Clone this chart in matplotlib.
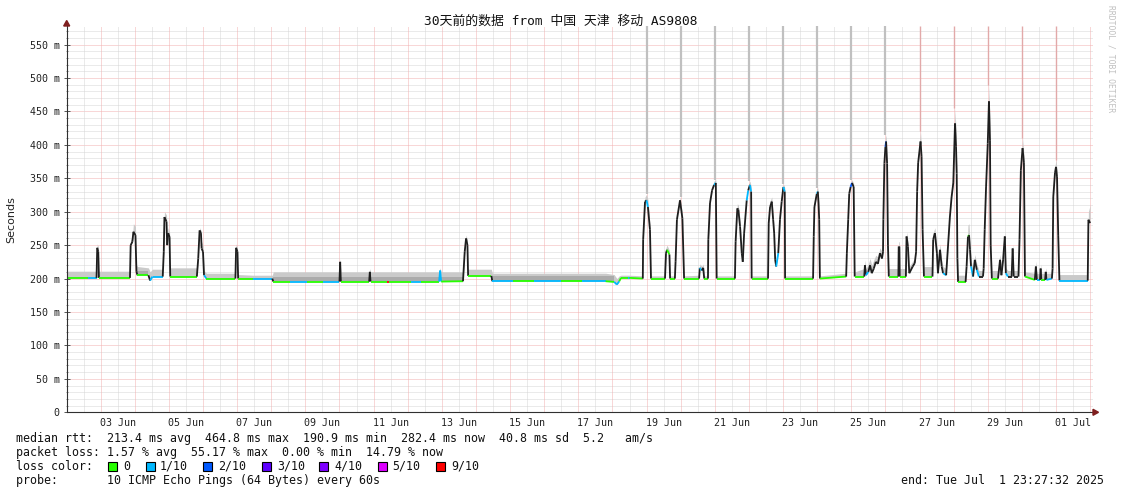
import matplotlib
matplotlib.use("Agg")
import matplotlib.pyplot as plt
from matplotlib.collections import LineCollection
from matplotlib.patches import Rectangle, Polygon
import numpy as np

# time in days, 01 Jun 00:00 = 0  (03 Jun = 2, 01 Jul = 30)
t_day = [
    0.51, 1.13, 1.38, 1.40, 1.43, 1.45, 2.36,
    2.38, 2.43, 2.46, 2.52, 2.55, 2.58, 2.90, 2.95, 3.02, 3.32,
    3.35, 3.37, 3.43, 3.45, 3.48, 3.52, 3.54, 4.32,
    4.36, 4.40, 4.44, 4.46, 4.50, 4.53, 4.60, 5.45,
    5.47, 5.51, 5.53, 5.97, 6.53, 6.56, 7.05, 7.55,
    8.02, 8.50, 8.52, 8.54, 9.37, 9.39, 9.41, 9.90, 9.95,
    10.60, 10.90, 11.42, 11.45, 11.48, 12.12, 12.17, 12.21, 12.25, 12.27,
    12.95, 12.98, 13.60, 14.20, 15.00, 15.60, 16.30, 16.55, 16.63, 16.70,
    16.75, 16.95, 17.00, 17.39,
    17.40, 17.455, 17.50, 17.54, 17.60, 17.63, 18.04,
    18.07, 18.10, 18.17, 18.19, 18.33,
    18.35, 18.39, 18.48, 18.55, 18.60, 19.04,
    19.06, 19.12, 19.16, 19.19, 19.30,
    19.31, 19.36, 19.42, 19.48, 19.53, 19.555, 20.09,
    20.11, 20.16, 20.19, 20.24, 20.29, 20.32, 20.36, 20.435, 20.48, 20.53, 20.565, 20.58, 21.06,
    21.08, 21.12, 21.17, 21.21, 21.24, 21.27, 21.30, 21.36, 21.41, 21.46, 21.51, 21.55, 21.56, 22.38,
    22.40, 22.42, 22.49, 22.52, 22.54, 22.56, 22.58, 23.35,
    23.37, 23.41, 23.44, 23.48, 23.52, 23.57, 23.60,
    23.88, 23.90, 23.93, 24.00, 24.05, 24.10, 24.16, 24.22, 24.28, 24.34, 24.40,
    24.43, 24.44, 24.47, 24.50, 24.52, 24.55, 24.575, 24.60,
    24.88, 24.89, 24.91, 24.92, 25.10, 25.12, 25.16, 25.20, 25.30, 25.36, 25.40,
    25.43, 25.46, 25.53, 25.56, 25.59, 25.63,
    25.88, 25.90, 25.95, 26.01, 26.04, 26.10, 26.15, 26.19, 26.28,
    26.39, 26.44, 26.49, 26.54, 26.57, 26.59, 26.61, 26.63,
    26.85, 26.88, 26.92, 26.95, 26.98, 27.01, 27.07, 27.12, 27.18, 27.24, 27.36, 27.38,
    27.41, 27.45, 27.50, 27.535, 27.565, 27.585, 27.62,
    27.80, 27.86, 27.90, 27.95, 28.00, 28.03, 28.09, 28.20, 28.23, 28.26, 28.40,
    28.43, 28.47, 28.52, 28.56, 28.59,
    28.88, 28.91, 28.94, 29.03, 29.05, 29.07, 29.18, 29.20, 29.22, 29.38,
    29.40, 29.42, 29.47, 29.50, 29.53, 29.565, 29.60, 30.43, 30.45, 30.50,
]
# median rtt (ms)
rtt_ms = [
    201, 201, 201, 246, 240, 201, 201,
    250, 255, 270, 265, 210, 205, 205, 197, 203, 203,
    240, 292, 285, 250, 268, 262, 203, 203,
    230, 272, 268, 245, 240, 205, 200, 200,
    246, 240, 200, 200, 200, 195.5, 195.5, 195.5,
    195.5, 195.5, 225, 195.5, 195.5, 210, 195.5, 195.5, 195.5,
    195.5, 195.5, 195.5, 212, 195.5, 196, 240, 260, 250, 204,
    204, 196, 196, 196, 196, 196, 196, 195, 191, 196,
    201, 201, 201, 200,
    258, 315, 317, 307, 273, 200, 200,
    238, 243, 236, 200, 200,
    225, 288, 317, 290, 200, 200,
    216, 212, 216, 200, 200,
    258, 313, 332, 340, 343, 200, 200,
    255, 305, 303, 278, 238, 225, 268, 317, 332, 340, 330, 200, 200,
    283, 307, 315, 288, 268, 228, 218, 238, 288, 315, 337, 330, 200, 200,
    263, 307, 327, 330, 313, 288, 200, 203,
    238, 288, 327, 337, 343, 337, 203,
    203, 220, 205, 210, 220, 208, 215, 225, 222, 238, 230,
    240, 288, 372, 397, 405, 372, 250, 203,
    203, 248, 248, 203, 203, 263, 248, 208, 218, 223, 240,
    330, 373, 405, 382, 273, 203,
    203, 258, 268, 238, 208, 243, 218, 208, 205,
    292, 322, 343, 432, 397, 357, 230, 195,
    195, 218, 263, 265, 243, 218, 203, 228, 213, 203, 203, 215,
    273, 337, 402, 465, 407, 250, 200,
    200, 228, 205, 228, 263, 208, 203, 203, 245, 203, 203,
    258, 362, 395, 373, 203,
    198, 218, 198, 198, 215, 198, 198, 210, 198, 200,
    215, 322, 358, 367, 352, 265, 197, 197, 288, 283,
]
# upper edge of the ping smoke (ms)
smoke_ms = [
    211, 211, 211, 252, 248, 211, 211,
    258, 262, 282, 278, 220, 218, 216, 210, 214, 214,
    250, 300, 295, 262, 276, 270, 216, 216,
    240, 276, 272, 255, 250, 212, 208, 208,
    252, 246, 206, 205, 205, 210, 210, 210,
    210, 210, 230, 210, 210, 215, 210, 210, 210,
    210, 210, 210, 216, 210, 210, 250, 265, 258, 214,
    214, 208, 208, 208, 208, 208, 208, 206, 200, 204,
    205, 205, 205, 204,
    265, 322, 326, 318, 280, 204, 204,
    246, 250, 242, 204, 204,
    232, 296, 322, 298, 204, 205,
    222, 218, 222, 204, 204,
    266, 320, 338, 346, 348, 204, 204,
    262, 312, 310, 288, 246, 232, 276, 322, 340, 346, 338, 204, 204,
    290, 316, 322, 296, 276, 236, 224, 246, 296, 322, 342, 336, 204, 204,
    270, 316, 334, 336, 320, 294, 204, 208,
    246, 296, 334, 342, 348, 342, 210,
    215, 228, 214, 222, 230, 220, 228, 235, 232, 246, 240,
    248, 296, 380, 410, 415, 382, 260, 215,
    215, 255, 255, 215, 215, 270, 256, 218, 226, 230, 250,
    340, 385, 420, 392, 280, 218,
    218, 268, 276, 250, 220, 252, 228, 218, 215,
    300, 335, 360, 455, 420, 370, 240, 205,
    205, 228, 280, 282, 255, 228, 212, 236, 222, 212, 212, 222,
    285, 350, 420, 490, 425, 262, 212,
    212, 236, 214, 236, 270, 216, 212, 212, 252, 212, 212,
    270, 372, 410, 385, 210,
    208, 226, 208, 208, 222, 208, 208, 216, 208, 208,
    225, 335, 368, 378, 362, 275, 206, 206, 300, 310,
]
# loss level of the segment starting at each point (-1 = no colour, drawn dark)
loss_lv = [
    0, 1, -1, -1, -1, 0, -1,
    -1, -1, -1, -1, -1, 0, -1, 1, 1, -1,
    -1, -1, -1, -1, -1, -1, 0, -1,
    -1, -1, -1, -1, -1, 1, 0, -1,
    -1, -1, 0, 1, -1, 0, 1, 0,
    1, -1, -1, 0, -1, -1, 0, 9, 0,
    1, 0, 1, 1, 0, -1, -1, -1, -1, 0,
    -1, 1, 0, 1, 0, 1, 0, 1, 1, 0,
    0, 1, 0, -1,
    -1, -1, 1, -1, -1, 0, -1,
    -1, 0, -1, 0, -1,
    -1, -1, -1, -1, 0, -1,
    1, -1, -1, 0, -1,
    -1, -1, -1, 1, -1, 0, -1,
    -1, -1, -1, -1, -1, -1, -1, 1, -1, 1, -1, 0, -1,
    -1, -1, -1, -1, -1, -1, 1, -1, -1, -1, 1, -1, 0, -1,
    -1, -1, 1, -1, -1, -1, 0, -1,
    -1, -1, -1, 2, -1, -1, 0,
    -1, -1, 1, -1, -1, -1, -1, -1, -1, -1, -1,
    -1, -1, -1, 2, -1, -1, -1, 0,
    -1, -1, -1, 0, -1, -1, -1, -1, -1, -1, -1,
    -1, -1, -1, -1, -1, 0,
    -1, -1, -1, -1, -1, -1, -1, 1, -1,
    -1, -1, -1, -1, -1, -1, -1, 0,
    -1, -1, 0, -1, -1, 1, -1, -1, 1, -1, -1, -1,
    -1, -1, -1, -1, -1, -1, 0,
    -1, -1, -1, -1, -1, 1, -1, -1, -1, -1, -1,
    -1, -1, -1, -1, 0,
    -1, -1, 1, -1, -1, 0, -1, -1, 1, -1,
    -1, -1, -1, -1, -1, -1, 1, -1, -1, -1,
]

# daily evening bursts whose max ping goes off the chart
spike_day = [17.5, 18.5, 19.5, 20.5, 21.5, 22.5, 23.5, 24.5, 25.5, 26.5, 27.5, 28.5, 29.5]
spike_from = [326, 322, 348, 346, 342, 336, 348, 415, 420, 455, 490, 410, 378]

# darker smoke bands
band_t0 = [2.58, 6.56, 12.98]
band_t1 = [2.90, 12.12, 16.55]
band_lo = [205, 196, 196]
band_hi = [212, 203, 204]

x_ticks = [2, 4, 6, 8, 10, 12, 14, 16, 18, 20, 22, 24, 26, 28, 30]
x_labels = ["03 Jun", "05 Jun", "07 Jun", "09 Jun", "11 Jun", "13 Jun", "15 Jun", "17 Jun",
            "19 Jun", "21 Jun", "23 Jun", "25 Jun", "27 Jun", "29 Jun", "01 Jul"]
y_ticks = [0, 50, 100, 150, 200, 250, 300, 350, 400, 450, 500, 550]

loss_names = ["0", "1/10", "2/10", "3/10", "4/10", "5/10", "9/10"]
loss_cols = ["#26ff00", "#00b8ff", "#0059ff", "#5e00ff", "#7e00ff", "#dd00ff", "#ff0000"]
lv_index = {0: 0, 1: 1, 2: 2, 3: 3, 4: 4, 5: 5, 9: 6}

title = "30天前的数据 from 中国 天津 移动 AS9808"
line_rtt = "median rtt:  213.4 ms avg  464.8 ms max  190.9 ms min  282.4 ms now  40.8 ms sd  5.2   am/s"
line_loss = "packet loss: 1.57 % avg  55.17 % max  0.00 % min  14.79 % now"
line_probe = "probe:       10 ICMP Echo Pings (64 Bytes) every 60s"
end_text = "end: Tue Jul  1 23:27:32 2025"

W, H = 1121, 494
MONO = "DejaVu Sans Mono"


def fx(x):
    return x / W


def fy(y):
    return 1 - y / H


fig = plt.figure(figsize=(W / 100, H / 100), dpi=100)
ax_l, ax_r, ax_t, ax_b = 66.7, 1093, 26, 412.3
ax = fig.add_axes([fx(ax_l), fy(ax_b), (ax_r - ax_l) / W, (ax_b - ax_t) / H])
px_day = 34.12
x0 = 2 + (ax_l - 117.7) / px_day
ax.set_xlim(x0, x0 + (ax_r - ax_l) / px_day)
ax.set_ylim(0, (ax_b - ax_t) / 0.6687)

# grid: dotted, red every 50 ms / day boundary, grey in between
ymax = ax.get_ylim()[1]
dot = dict(lw=0.72, ls=(0, (1, 1)), zorder=1)
for v in range(10, int(ymax) + 1, 10):
    c = "#f3b0b0" if v % 50 == 0 else "#d6d6d6"
    ax.axhline(v, color=c, **dot)
for d in range(1, 31):
    ax.axvline(d, color="#d6d6d6", **dot)
    ax.axvline(d + 0.5, color="#f3b0b0", **dot)

# smoke
ax.fill_between(t_day, rtt_ms, smoke_ms, color="#cacaca", lw=0, zorder=2)
for a, b, lo, hi in zip(band_t0, band_t1, band_lo, band_hi):
    ax.fill_between([a, b], [lo, lo], [hi, hi], color="#ababab", lw=0, zorder=2)

spike_cols = ["#c0c0c0"] * 8 + ["#e2a9a9"] * 5
spike_lw = [1.6] * 8 + [1.0] * 5
for d, f, c, w in zip(spike_day, spike_from, spike_cols, spike_lw):
    ax.vlines(d, f, ymax, color=c, lw=w, zorder=3)

# median line coloured by loss
segs, cols = [], []
for i in range(len(t_day) - 1):
    segs.append([(t_day[i], rtt_ms[i]), (t_day[i + 1], rtt_ms[i + 1])])
    lv = loss_lv[i]
    cols.append("#1e1e1e" if lv < 0 else loss_cols[lv_index[lv]])
ax.add_collection(LineCollection(segs, colors=cols, linewidths=1.3, capstyle="butt", zorder=4))

# axes styling
for s in ["top", "right"]:
    ax.spines[s].set_visible(False)
for s in ["left", "bottom"]:
    ax.spines[s].set_color("#303030")
    ax.spines[s].set_linewidth(0.8)
    ax.spines[s].set_zorder(5)

ax.set_xticks(x_ticks, x_labels)
ax.set_yticks(y_ticks, ["0" if v == 0 else f"{v} m" for v in y_ticks])
ax.set_yticks(list(range(10, int(ymax) + 1, 10)), minor=True)
ax.tick_params(axis="x", length=0, pad=4, labelsize=7.2, labelcolor="#222222")
ax.tick_params(axis="y", which="major", direction="inout", length=4, width=0.7,
               color="#555555", pad=3, labelsize=7.2, labelcolor="#222222")
ax.tick_params(axis="y", which="minor", direction="inout", length=2, width=0.6, color="#777777")
for lab in ax.get_xticklabels() + ax.get_yticklabels():
    lab.set_family(MONO)

# axis arrows
arrow_c = "#7f1f1f"
fig.patches.append(Polygon([(fx(63.7), fy(26)), (fx(69.7), fy(26)), (fx(66.7), fy(20.5))],
                           closed=True, transform=fig.transFigure, color=arrow_c))
fig.patches.append(Polygon([(fx(1093), fy(409.3)), (fx(1093), fy(415.3)), (fx(1098.5), fy(412.3))],
                           closed=True, transform=fig.transFigure, color=arrow_c))

# texts
fig.text(fx(560.5), fy(21.5), title, ha="center", va="center", fontsize=9.3,
         family=[MONO, "Noto Sans CJK SC"], color="#111111")
fig.text(fx(11), fy(220), "Seconds", rotation=90, ha="center", va="center",
         fontsize=8, family="DejaVu Sans", color="#222222")
fig.text(fx(1111.5), fy(5), "RRDTOOL / TOBI OETIKER", rotation=270, ha="center", va="top",
         fontsize=5.8, family=MONO, color="#c0c0c0")

fs = 8.4
fig.text(fx(16), fy(438), line_rtt, ha="left", va="center", fontsize=fs, family=MONO, color="#111111")
fig.text(fx(16), fy(452), line_loss, ha="left", va="center", fontsize=fs, family=MONO, color="#111111")
fig.text(fx(16), fy(466), "loss color:", ha="left", va="center", fontsize=fs, family=MONO, color="#111111")
fig.text(fx(16), fy(480), line_probe, ha="left", va="center", fontsize=fs, family=MONO, color="#111111")
fig.text(fx(1104), fy(480), end_text, ha="right", va="center", fontsize=fs, family=MONO, color="#111111")

sq_x = [108, 146, 203, 262, 319, 377.5, 436]
lab_x = [123, 160, 218, 277, 334, 392, 451]
for sx, lx, name, c in zip(sq_x, lab_x, loss_names, loss_cols):
    fig.patches.append(Rectangle((fx(sx), fy(470.5)), 9 / W, 9 / H, transform=fig.transFigure,
                                 facecolor=c, edgecolor="#000000", lw=0.8))
    fig.text(fx(lx), fy(466), name, ha="left", va="center", fontsize=fs, family=MONO, color="#111111")

fig.savefig("out.png", dpi=100)
